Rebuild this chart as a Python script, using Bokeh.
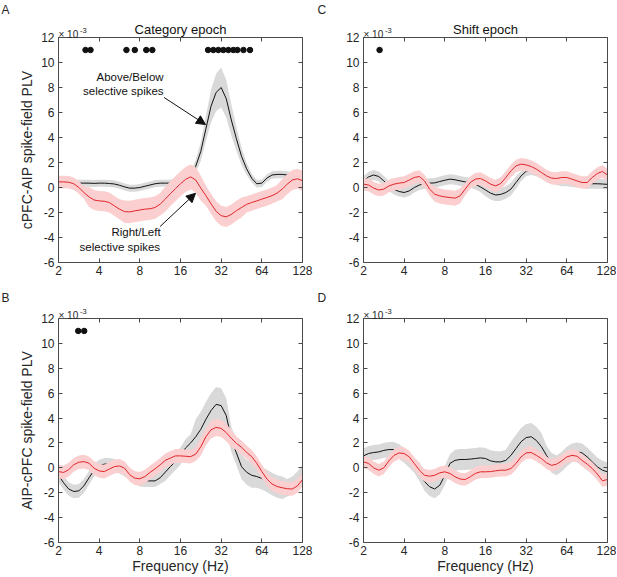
import numpy as np
from bokeh.plotting import figure
from bokeh.models import Range1d, FixedTicker, LogAxis, LinearAxis, Label, Arrow, NormalHead
from bokeh.layouts import row, column
from bokeh.embed import file_html
from bokeh.resources import INLINE
from bokeh.core.properties import value

# ---------------- data (PLV values in units of 1e-3) ----------------
freqs = [2 * 2 ** (k / 8) for k in range(49)]   # 1/8-octave grid, 2..128 Hz

x_ticks = [2, 4, 8, 16, 32, 64, 128]
y_ticks = [-6, -4, -2, 0, 2, 4, 6, 8, 10, 12]
sig_level = 11

# Panel A: cPFC-AIP, category epoch
a_black = [0.30, 0.30, 0.30, 0.32, 0.35, 0.35, 0.35, 0.33, 0.35, 0.35, 0.32, 0.28, 0.18, 0.05, -0.05, -0.05,
           0.00, 0.10, 0.20, 0.30, 0.35, 0.35, 0.35, 0.40, 0.50, 0.70, 1.00, 1.70, 2.90, 4.70, 6.50, 7.60,
           8.00, 7.10, 5.40, 3.90, 2.50, 1.50, 0.75, 0.30, 0.35, 0.75, 1.00, 1.05, 1.05, 1.00, 0.90, 0.80, 0.70]
a_black_sem = [0.28] * 26 + [0.35, 0.50, 0.75, 1.00, 1.30, 1.50, 1.60, 1.50, 1.25, 0.95, 0.70, 0.50, 0.35] + [0.30] * 10
a_red = [0.45, 0.45, 0.42, 0.30, 0.00, -0.40, -0.75, -1.00, -1.07, -1.10, -1.20, -1.47, -1.73, -1.93, -1.95, -1.87,
         -1.80, -1.73, -1.70, -1.60, -1.33, -0.93, -0.50, -0.10, 0.30, 0.65, 0.85, 0.60, -0.05, -0.65, -1.30, -1.90,
         -2.25, -2.35, -2.15, -1.85, -1.60, -1.35, -1.20, -1.07, -0.93, -0.80, -0.65, -0.45, -0.13, 0.27, 0.60, 0.70, 0.55]
a_red_sem = [0.50] * 6 + [0.80] * 7 + [0.90] * 8 + [1.00] * 8 + [0.80] * 8 + [0.65] * 7 + [0.80] * 5
a_dots = [3.17, 3.45, 6.37, 7.34, 8.93, 9.9, 25.6, 28.0, 30.5, 33.2, 36.2, 39.4, 42.2, 46.8, 52.3]

# Panel B: AIP-cPFC, category epoch
b_black = [-0.60, -1.20, -1.70, -1.90, -1.85, -1.45, -0.80, -0.20, 0.15, 0.30, 0.30, 0.20, 0.05, -0.20, -0.50, -0.80,
           -1.00, -1.05, -1.05, -1.05, -0.80, -0.35, 0.10, 0.50, 0.95, 1.60, 2.00, 2.50, 3.10, 3.90, 4.60, 5.10,
           5.00, 4.20, 2.30, 1.20, 0.10, -0.35, -0.60, -0.70, -0.85, -1.05, -1.30, -1.50, -1.60, -1.60, -1.40, -1.00, -0.50]
b_black_sem = [0.55] * 7 + [0.50] * 14 + [0.70] * 6 + [1.40] * 7 + [1.00] * 5 + [0.90] * 6 + [0.70] * 4
b_red = [-0.30, -0.37, -0.15, 0.25, 0.45, 0.50, 0.37, -0.03, -0.25, -0.30, -0.10, 0.10, 0.15, -0.03, -0.55, -0.83,
         -0.88, -0.70, -0.37, -0.08, 0.24, 0.60, 0.78, 0.96, 0.96, 0.93, 0.90, 1.10, 1.70, 2.50, 3.05, 3.25,
         3.17, 2.83, 2.37, 1.97, 1.65, 1.25, 0.90, 0.37, -0.30, -0.90, -1.30, -1.50, -1.60, -1.68, -1.70, -1.45, -0.95]
b_red_sem = [0.55] * 28 + [0.70] * 7 + [0.55] * 14
b_dots = [2.8, 3.1]

# Panel C: cPFC-AIP, shift epoch
c_black = [0.53, 0.85, 1.00, 0.88, 0.53, 0.13, -0.15, -0.32, -0.40, -0.27, 0.00, 0.20, 0.30, 0.35, 0.37, 0.48,
           0.58, 0.67, 0.62, 0.53, 0.45, 0.38, 0.25, 0.05, -0.20, -0.45, -0.60, -0.55, -0.40, -0.13, 0.40, 0.93,
           1.30, 1.40, 1.30, 1.10, 0.90, 0.70, 0.60, 0.50, 0.50, 0.45, 0.40, 0.35, 0.30, 0.30, 0.30, 0.28, 0.25]
c_black_sem = [0.40] * 24 + [0.50] * 7 + [0.40] * 18
c_red = [0.27, 0.20, -0.05, -0.20, -0.13, 0.13, 0.27, 0.35, 0.40, 0.60, 0.80, 0.88, 0.53, -0.13, -0.53, -0.67,
         -0.75, -0.80, -0.85, -0.67, -0.13, 0.40, 0.67, 0.72, 0.53, 0.27, 0.13, 0.32, 0.80, 1.33, 1.73, 1.87,
         1.81, 1.68, 1.47, 1.20, 0.93, 0.75, 0.72, 0.80, 0.80, 0.67, 0.53, 0.40, 0.40, 0.80, 1.12, 1.28, 1.00]
c_red_sem = [0.50] * 14 + [0.60] * 6 + [0.50] * 29
c_dots = [2.63]

# Panel D: AIP-cPFC, shift epoch
d_black = [0.96, 1.15, 1.23, 1.28, 1.40, 1.47, 1.47, 1.30, 1.00, 0.60, 0.20, -0.30, -1.10, -1.52, -1.70, -1.40,
           -0.60, 0.35, 0.60, 0.67, 0.67, 0.70, 0.75, 0.80, 0.75, 0.56, 0.48, 0.48, 0.60, 1.00, 1.55, 2.10,
           2.43, 2.50, 2.20, 1.70, 1.00, 0.40, 0.20, 0.50, 0.90, 1.20, 1.28, 1.20, 0.88, 0.48, 0.08, -0.19, -0.32]
d_black_sem = [0.60] * 11 + [0.75] * 7 + [0.85] * 11 + [1.10] * 7 + [0.80] * 5 + [0.75] * 8
d_red = [0.48, 0.35, 0.00, -0.19, 0.00, 0.56, 1.00, 1.20, 1.15, 0.88, 0.35, -0.19, -0.60, -0.67, -0.60, -0.40,
         -0.32, -0.45, -0.72, -0.90, -0.94, -0.72, -0.45, -0.32, -0.32, -0.30, -0.24, -0.19, -0.19, -0.05, 0.35, 0.88,
         1.20, 1.23, 1.00, 0.75, 0.40, 0.20, 0.30, 0.56, 0.88, 1.00, 0.94, 0.60, 0.30, -0.05, -0.50, -1.04, -0.94]
d_red_sem = [0.50] * 49
d_dots = []

# ---------------- style ----------------
FONT = "Liberation Sans"
AX = "#4a4a4a"
TXT = "#262626"
GRAY_FILL = "#d9d9d9"
PINK_FILL = "#fbcfcf"
BLACK = "#111111"
RED = "#e0262b"


def put_text(p, x, y, txt, size, dx=0, dy=0, align="left", baseline="alphabetic", color=TXT, angle=0.0):
    p.text(x=[x], y=[y], text=[txt], x_offset=dx, y_offset=dy, text_align=align, text_baseline=baseline,
           angle=angle, text_font=value(FONT), text_font_size=size, text_color=color, level="overlay")


def panel(letter, black, black_sem, red, red_sem, dots, width, height, left, right, top, bottom,
          title=None, ylabel=None, xlabel=None):
    p = figure(width=width, height=height, x_axis_type="log",
               x_range=Range1d(x_ticks[0], x_ticks[-1]), y_range=Range1d(y_ticks[0], y_ticks[-1]),
               output_backend="svg", toolbar_location=None,
               min_border_left=left, min_border_right=right, min_border_top=top, min_border_bottom=bottom)
    p.outline_line_color = None
    p.grid.visible = False
    p.background_fill_color = "white"
    p.border_fill_color = "white"

    f = np.array(freqs)
    b = np.array(black); bs = np.array(black_sem)
    r = np.array(red); rs = np.array(red_sem)
    p.varea(x=f, y1=b - bs, y2=b + bs, fill_color=GRAY_FILL)
    p.line(f, b, line_color=BLACK, line_width=1)
    p.varea(x=f, y1=r - rs, y2=r + rs, fill_color=PINK_FILL)
    p.line(f, r, line_color=RED, line_width=1)
    if dots:
        p.scatter(dots, [sig_level] * len(dots), size=5.5, fill_color=BLACK, line_color=BLACK)

    for ax in (p.xaxis[0], p.yaxis[0]):
        ax.major_tick_in = 4
        ax.major_tick_out = 0
        ax.minor_tick_line_color = None
        ax.axis_line_color = AX
        ax.major_tick_line_color = AX
        ax.major_label_text_font = FONT
        ax.major_label_text_font_size = "12px"
        ax.major_label_text_color = TXT
        ax.axis_label_text_font = FONT
        ax.axis_label_text_font_size = "14px"
        ax.axis_label_text_font_style = "normal"
        ax.axis_label_text_color = TXT
    p.xaxis[0].ticker = FixedTicker(ticks=x_ticks)
    p.xaxis[0].major_label_overrides = {t: str(t) for t in x_ticks}
    p.yaxis[0].ticker = FixedTicker(ticks=y_ticks)
    p.yaxis[0].major_label_overrides = {t: str(t) for t in y_ticks}
    p.xaxis[0].major_label_standoff = 3
    p.xaxis[0].axis_label_standoff = 0
    p.yaxis[0].major_label_standoff = 4
    if xlabel:
        p.xaxis[0].axis_label = xlabel

    top_ax = LogAxis(ticker=FixedTicker(ticks=x_ticks))
    right_ax = LinearAxis(ticker=FixedTicker(ticks=y_ticks))
    for ax, ticks in ((top_ax, x_ticks), (right_ax, y_ticks)):
        ax.major_tick_in = 4
        ax.major_tick_out = 0
        ax.minor_tick_line_color = None
        ax.axis_line_color = AX
        ax.major_tick_line_color = AX
        ax.major_label_text_font_size = "0px"
        ax.major_label_standoff = 0
        ax.major_label_overrides = {t: "" for t in ticks}
    p.add_layout(top_ax, "above")
    p.add_layout(right_ax, "right")

    x0, y1 = x_ticks[0], y_ticks[-1]
    y_mid = (y_ticks[0] + y_ticks[-1]) / 2
    if ylabel:
        put_text(p, x0, y_mid, ylabel, "14px", dx=-32, align="center", baseline="middle", angle=np.pi / 2)
    put_text(p, x0, y1, letter, "12px", dx=-left + 1, dy=-top + 2, baseline="top")
    put_text(p, x0, y1, "× 10", "10px", dx=0, dy=-3.5)
    put_text(p, x0, y1, "-3", "7.5px", dx=21.5, dy=-7)
    if title:
        put_text(p, float(np.sqrt(x_ticks[0] * x_ticks[-1])), y1, title, "13px", dy=-8, align="center",
                 color="#111111")
    return p


# layout (frames: A/B x 58-302, C/D x 363-607; A/C y 37-262, B/D y 318-543)
pA = panel("A", a_black, a_black_sem, a_red, a_red_sem, a_dots, 316, 288, 58, 14, 37, 26,
           title="Category epoch", ylabel="cPFC-AIP spike-field PLV")
pC = panel("C", c_black, c_black_sem, c_red, c_red_sem, c_dots, 300, 288, 47, 9, 37, 26,
           title="Shift epoch")
pB = panel("B", b_black, b_black_sem, b_red, b_red_sem, b_dots, 316, 288, 58, 14, 30, 33,
           ylabel="AIP-cPFC spike-field PLV", xlabel="Frequency (Hz)")
pD = panel("D", d_black, d_black_sem, d_red, d_red_sem, d_dots, 300, 288, 47, 9, 30, 33,
           xlabel="Frequency (Hz)")

# annotations in panel A
note_font = dict(text_font=FONT, text_font_size="11.5px", text_color="#111111", text_align="right",
                 text_baseline="middle")
pA.add_layout(Label(x=12.0, y=8.82, text="Above/Below", **note_font))
pA.add_layout(Label(x=12.0, y=7.76, text="selective spikes", **note_font))
pA.add_layout(Label(x=11.4, y=-3.58, text="Right/Left", **note_font))
pA.add_layout(Label(x=11.3, y=-4.72, text="selective spikes", **note_font))
pA.add_layout(Arrow(end=NormalHead(size=9, fill_color=BLACK, line_color=BLACK),
                    x_start=12.1, y_start=7.2, x_end=24.5, y_end=5.04, line_color=BLACK, line_width=1))
pA.add_layout(Arrow(end=NormalHead(size=9, fill_color=BLACK, line_color=BLACK),
                    x_start=11.3, y_start=-3.12, x_end=20.66, y_end=-0.46, line_color=BLACK, line_width=1))

layout = column(row(pA, pC), row(pB, pD))
open("out.html", "w").write(file_html(layout, INLINE))
